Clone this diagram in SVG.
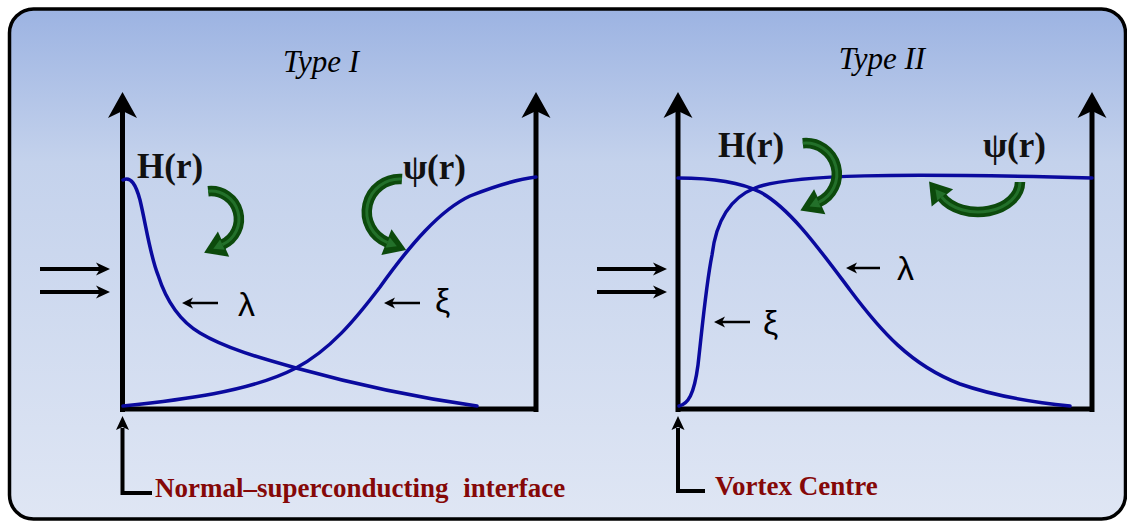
<svg xmlns="http://www.w3.org/2000/svg" width="1127" height="522" viewBox="0 0 1127 522">
<style>
.axis{stroke:#000;stroke-width:5;fill:none}
.thin{stroke:#000;stroke-width:2.6;fill:none}
.mid{stroke:#000;stroke-width:4;fill:none}
.curve{stroke:#0a0a9e;stroke-width:3.5;fill:none;stroke-linecap:round}
.garrow{stroke:#0c4a0c;stroke-width:10.5;fill:none}
.ghl{stroke:#23702a;stroke-width:3;fill:none}
.head{fill:#000}
.lbl{font-family:"Liberation Serif","Times New Roman",serif;font-weight:bold;font-size:35px;fill:#111}
.greek{font-family:"Liberation Sans",Arial,sans-serif;font-size:34px;fill:#000}
.title{font-family:"Liberation Serif","Times New Roman",serif;font-style:italic;font-size:31px;fill:#000}
.note{font-family:"Liberation Serif","Times New Roman",serif;font-weight:bold;font-size:27px;fill:#850808}
</style>
<defs>
<linearGradient id="bg" x1="0" y1="0" x2="0" y2="1">
<stop offset="0" stop-color="#9cb3e2"/>
<stop offset="0.3" stop-color="#c4d2ec"/>
<stop offset="1" stop-color="#dfe6f4"/>
</linearGradient>
<path id="axhead" d="M0,0 L14.5,26 L0,19 L-14.5,26 Z"/>
<path id="inhead" d="M0,0 L-14,-6.5 L-10,0 L-14,6.5 Z"/>
<path id="smhead" d="M0,0 L11,-5.5 L8,0 L11,5.5 Z"/>
<path id="uphead" d="M0,0 L6.5,14 L0,11 L-6.5,14 Z"/>
<marker id="gm" markerUnits="userSpaceOnUse" markerWidth="30" markerHeight="30" refX="0" refY="0" viewBox="-2 -12 20 24" orient="auto" overflow="visible">
<path d="M-1,-11 L16,0 L-1,11 Z" fill="#0c4a0c"/>
<path d="M0,-4.5 L8,0 L0,4.5 Z" fill="#23702a"/>
</marker>
</defs>

<rect id="frame" x="9.5" y="9" width="1116" height="510" rx="24" ry="24" fill="url(#bg)" stroke="#000" stroke-width="3.5"/>

<g id="titles">
<text class="title" x="321" y="72" text-anchor="middle">Type I</text>
<text class="title" x="882" y="69" text-anchor="middle">Type II</text>
</g>

<g id="chart1-axes">
<path class="axis" d="M122.5,412 V108 M536,412 V108 M120,409 H538.5"/>
<use href="#axhead" x="122.5" y="92" class="head"/>
<use href="#axhead" x="536" y="92" class="head"/>
</g>

<g id="chart2-axes">
<path class="axis" d="M678,412 V108 M1092,412 V108 M675.5,409 H1094.5"/>
<use href="#axhead" x="678" y="92" class="head"/>
<use href="#axhead" x="1092" y="92" class="head"/>
</g>

<g id="curves">
<path id="H1" class="curve" d="M123,180 C131,176 136,185 140,200 C146,225 150,255 158,275 C166,300 178,320 200,333 C225,348 260,358 296,368 C350,383 420,398 477,406"/>
<path id="psi1" class="curve" d="M123,406 C180,400 250,392 296,368 C330,350 355,320 380,287 C410,245 440,210 470,196 C500,184 520,179 536,177"/>
<path id="psi2" class="curve" d="M679,406 C688,404 694,395 698,365 C702,330 706,285 712,255 C716,222 730,198 755,188 C790,174 900,173 1092,178"/>
<path id="H2" class="curve" d="M678,178 C710,178 740,182 760,192 C790,208 820,250 850,290 C880,330 910,365 960,384 C1000,398 1040,403 1070,406"/>
</g>

<g id="connectors">
<path class="mid" d="M40,269 H101 M40,292 H101"/>
<use href="#inhead" x="110" y="269" class="head"/>
<use href="#inhead" x="110" y="292" class="head"/>
<path class="mid" d="M597,269 H658 M597,292 H658"/>
<use href="#inhead" x="667" y="269" class="head"/>
<use href="#inhead" x="667" y="292" class="head"/>

<path class="thin" d="M218,303 H189 M420,303 H391 M880,268 H853 M750,322 H721"/>
<use href="#smhead" x="182" y="303" class="head"/>
<use href="#smhead" x="384" y="303" class="head"/>
<use href="#smhead" x="846" y="268" class="head"/>
<use href="#smhead" x="714" y="322" class="head"/>

<path class="mid" d="M122.5,428 V493 H152"/>
<use href="#uphead" x="122.5" y="416" class="head"/>
<path class="mid" d="M678,428 V491 H705"/>
<use href="#uphead" x="678" y="416" class="head"/>
</g>

<g id="green-arrows">
<path class="garrow" d="M208.1,191.2 A28,28 0 0 1 222.4,244.6" marker-end="url(#gm)"/>
<path class="ghl" d="M208.1,191.2 A28,28 0 0 1 222.4,244.6"/>
<path class="garrow" d="M402,179 A33,33 0 0 0 387.6,242.6" marker-end="url(#gm)"/>
<path class="ghl" d="M402,179 A33,33 0 0 0 387.6,242.6"/>
<path class="garrow" d="M802.8,143.2 A31,31 0 0 1 818.6,202.3" marker-end="url(#gm)"/>
<path class="ghl" d="M802.8,143.2 A31,31 0 0 1 818.6,202.3"/>
<path class="garrow" d="M1020,182 A42,30 0 0 1 941.6,197" marker-end="url(#gm)"/>
<path class="ghl" d="M1020,182 A42,30 0 0 1 941.6,197"/>
</g>

<g id="labels">
<text class="lbl" x="137" y="178">H(r)</text>
<text class="lbl" x="403" y="179">ψ(r)</text>
<text class="lbl" x="718" y="157">H(r)</text>
<text class="lbl" x="983" y="157">ψ(r)</text>
<text class="greek" x="238" y="316">λ</text>
<text class="greek" x="435" y="312">ξ</text>
<text class="greek" x="897" y="280">λ</text>
<text class="greek" x="763" y="334">ξ</text>
</g>

<g id="notes">
<text class="note" x="155" y="497" word-spacing="8">Normal–superconducting interface</text>
<text class="note" x="715" y="495">Vortex Centre</text>
</g>
</svg>
